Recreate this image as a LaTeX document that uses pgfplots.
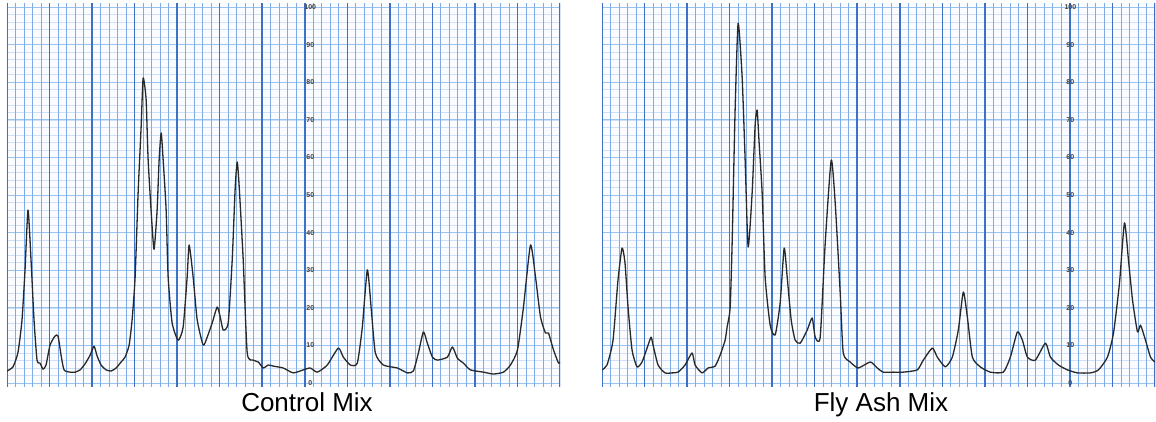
\documentclass[border=0pt]{standalone}
\usepackage{fontspec}
\setmainfont{Liberation Sans}
\usepackage{pgfplots}
\pgfplotsset{compat=1.18}
\definecolor{vmaj}{RGB}{62,112,195}
\definecolor{vmin}{RGB}{128,172,230}
\definecolor{hmaj}{RGB}{152,194,240}
\definecolor{hmin}{RGB}{205,224,248}
\definecolor{paper}{RGB}{250,252,255}
\definecolor{trace}{RGB}{40,40,40}
\tikzset{
  lbl/.style={font=\fontsize{7}{7}\selectfont\bfseries, text=black!75, inner sep=0pt},
}
\pgfplotsset{
  paperaxis/.style={
    anchor=south west, scale only axis, width=553pt, height=383.5pt,
    xmin=0, xmax=130, ymin=-1, ymax=101,
    axis line style={draw=none},
    axis background/.style={fill=paper},
    xtick=\empty, ytick=\empty,
    clip=true,
  },
  tracestyle/.style={draw=trace, line width=1.3pt, line join=round, mark=none, smooth, tension=0.35},
}
\newcommand{\papergrid}{%
  \pgfplotsinvokeforeach{0,2,...,100}{\draw[hmin, line width=0.6pt] (axis cs:0,##1) -- (axis cs:130,##1);}%
  \pgfplotsinvokeforeach{0,10,...,100}{\draw[hmaj, line width=1pt] (axis cs:0,##1) -- (axis cs:130,##1);}%
  \pgfplotsinvokeforeach{0,2,...,130}{\draw[vmin, line width=0.9pt] (axis cs:##1,-1) -- (axis cs:##1,101);}%
  \pgfplotsinvokeforeach{0,10,...,130}{\draw[vmaj, line width=1.5pt] (axis cs:##1,-1) -- (axis cs:##1,101);}%
}
\begin{document}
\begin{tikzpicture}
\path[use as bounding box] (0,0) rectangle (1156pt,421pt);
% Control Mix
\begin{axis}[paperaxis, at={(7pt,34.2pt)}]
\papergrid
\addplot[tracestyle] coordinates {
(0,3.2) (1.41,4.3) (2.59,8.2) (3.53,16.8) (4.24,30.1) (4.94,46.0) (5.65,32.7) (6.35,16.8)
(7.06,6.1) (7.76,5.3) (8.47,3.7) (9.18,4.8) (10.12,10.1) (11.29,12.5) (12.0,12.5) (12.71,7.4)
(13.41,3.5) (14.82,2.9) (16.0,2.9) (17.18,3.5) (18.35,5.1) (19.53,7.4) (20.47,9.8) (21.18,7.2)
(22.12,4.8) (23.29,3.5) (24.47,3.2) (25.65,4.0) (26.82,5.6) (27.76,6.9) (28.71,10.1) (29.41,16.8)
(30.12,28.2) (30.82,50.5) (31.53,68.1) (32.0,81.1) (32.71,75.3) (33.18,59.3) (34.12,41.5) (34.59,35.6)
(35.29,46.0) (35.76,59.3) (36.24,66.5) (36.71,59.3) (37.41,46.0) (37.88,28.2) (38.82,16.0) (40.24,11.4)
(41.41,14.9) (42.35,28.2) (42.82,36.7) (43.76,28.2) (44.71,16.8) (46.12,10.1) (47.06,12.2) (48.24,16.0)
(49.41,20.2) (50.12,17.6) (50.82,14.1) (52.0,16.0) (52.94,32.7) (53.65,52.1) (54.12,58.8) (54.59,52.1)
(55.53,32.7) (56.47,8.0) (57.88,6.1) (59.06,5.6) (60.24,4.0) (61.41,4.8) (62.59,4.5) (64.94,4.0)
(67.29,2.7) (69.65,3.5) (71.29,4.0) (72.94,2.9) (75.29,4.8) (77.88,9.3) (79.06,6.9) (80.71,4.8)
(82.35,5.3) (83.53,14.9) (84.71,30.1) (85.65,19.4) (86.59,8.0) (88.47,4.8) (91.76,4.0) (94.12,2.7)
(95.53,3.2) (96.71,8.0) (97.88,13.6) (98.82,10.6) (100.0,6.9) (101.18,6.1) (103.53,6.9) (104.71,9.6)
(105.88,6.6) (107.29,5.3) (108.94,3.5) (112.0,2.9) (114.35,2.4) (116.71,2.9) (118.35,4.8) (120.0,8.8)
(121.41,20.2) (123.06,36.7) (124.24,28.2) (125.41,17.6) (126.59,13.3) (127.29,13.3) (128.47,8.8) (129.65,5.3)
(130,5.6)
};
\pgfplotsinvokeforeach{0,10,...,100}{\node[lbl] at (axis cs:71.3,#1) {#1};}
\end{axis}
% Fly Ash Mix
\begin{axis}[paperaxis, at={(602pt,34.2pt)}]
\papergrid
\addplot[tracestyle] coordinates {
(0,3.5) (1.18,4.8) (2.59,11.4) (3.76,27.4) (4.71,35.9) (5.41,31.9) (6.12,20.2) (7.06,8.8)
(8.24,4.3) (9.41,5.6) (10.59,9.3) (11.53,12.2) (12.0,10.1) (13.18,4.8) (14.82,2.7) (16.47,2.7)
(17.88,2.9) (19.53,4.8) (21.18,8.0) (21.88,4.8) (23.53,2.7) (24.94,4.0) (26.59,4.5) (27.76,7.4)
(28.94,11.4) (29.41,14.9) (30.12,20.0) (30.59,37.2) (31.29,72.6) (32.0,95.7) (32.94,81.4) (33.65,59.3)
(34.35,36.2) (35.29,50.5) (36.0,68.6) (36.47,72.6) (36.94,63.8) (37.65,50.5) (38.35,28.2) (39.53,15.4)
(40.71,12.8) (41.88,21.3) (42.82,35.9) (43.53,28.2) (44.47,16.8) (45.41,11.4) (46.59,10.6) (48.24,14.1)
(49.41,17.3) (50.12,12.2) (51.29,12.2) (52.47,37.2) (53.88,59.3) (54.82,47.9) (56.0,23.9) (56.71,8.0)
(58.35,5.6) (60.24,4.0) (63.06,5.6) (64.71,4.0) (66.12,2.9) (68.47,2.9) (70.82,2.9) (74.12,3.5)
(75.53,6.1) (77.65,9.3) (78.82,6.9) (80.71,4.3) (82.35,6.9) (83.76,14.1) (84.94,24.2) (85.88,17.6)
(87.06,6.9) (88.94,4.3) (91.29,2.9) (94.35,2.9) (96.0,6.9) (97.65,13.6) (98.82,11.4) (100.0,6.9)
(101.88,6.1) (104.24,10.6) (105.41,6.9) (107.29,4.8) (109.41,3.5) (111.76,2.7) (114.82,2.7) (116.71,3.5)
(118.82,6.9) (120.24,13.3) (121.65,26.6) (122.82,42.6) (123.76,32.7) (124.71,22.1) (125.88,13.6) (126.59,15.4)
(127.76,11.4) (128.94,6.9) (130,5.6)
};
\pgfplotsinvokeforeach{0,10,...,100}{\node[lbl] at (axis cs:110.1,#1) {#1};}
\end{axis}
\node[anchor=base, font=\fontsize{26}{26}\selectfont] at (307pt,10pt) {Control Mix};
\node[anchor=base, font=\fontsize{26}{26}\selectfont] at (881pt,10pt) {Fly Ash Mix};
\end{tikzpicture}
\end{document}
